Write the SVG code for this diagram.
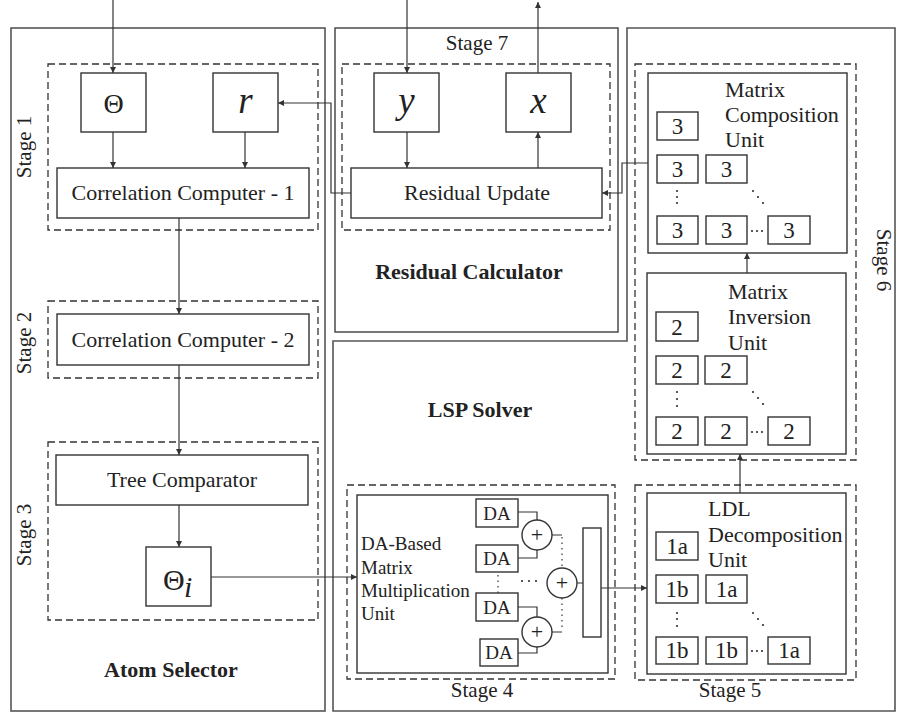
<svg xmlns="http://www.w3.org/2000/svg" width="901" height="715" viewBox="0 0 901 715">
<style>
.outer{fill:none;stroke:#555;stroke-width:1.6}
.dash{fill:none;stroke:#333;stroke-width:1.3;stroke-dasharray:7 4}
.box{fill:#fff;stroke:#333;stroke-width:1.4}
.conn{fill:none;stroke:#333;stroke-width:1.2}
.dot{stroke:#333;stroke-width:1.2;fill:none;stroke-dasharray:1.5 4}
.pt{fill:#333}
</style>
<defs>
<marker id="ah" viewBox="0 0 10 10" refX="10" refY="5" markerUnits="userSpaceOnUse" markerWidth="7" markerHeight="6" orient="auto">
<path d="M0,0 L10,5 L0,10 z" fill="#333"/>
</marker>
</defs>
<rect width="901" height="715" fill="#fff"/>

<g id="atom-selector">
<rect class="outer" x="11" y="28" width="314" height="683"/>
<text font-family="Liberation Serif" font-size="22" font-weight="bold" fill="#222" text-anchor="middle" x="171" y="677">Atom Selector</text>
</g>
<g id="residual-calculator">
<rect class="outer" x="335" y="28" width="283" height="304"/>
<text font-family="Liberation Serif" font-size="22" font-weight="bold" fill="#222" text-anchor="middle" x="469" y="279">Residual Calculator</text>
</g>
<g id="lsp-solver">
<path class="outer" d="M627,28 H895 V711 H333 V341 H627 Z"/>
<text font-family="Liberation Serif" font-size="22" font-weight="bold" fill="#222" text-anchor="middle" x="480" y="417">LSP Solver</text>
</g>

<g id="stage1">
<rect class="dash" x="48" y="64" width="270" height="166"/>
<text font-family="Liberation Serif" font-size="21" fill="#222" text-anchor="middle" transform="translate(31,147) rotate(-90)">Stage 1</text>
</g>
<g id="stage2">
<rect class="dash" x="48" y="301" width="270" height="77"/>
<text font-family="Liberation Serif" font-size="21" fill="#222" text-anchor="middle" transform="translate(31,343) rotate(-90)">Stage 2</text>
</g>
<g id="stage3">
<rect class="dash" x="48" y="442" width="270" height="178"/>
<text font-family="Liberation Serif" font-size="21" fill="#222" text-anchor="middle" transform="translate(31,535) rotate(-90)">Stage 3</text>
</g>
<g id="stage7">
<rect class="dash" x="342" y="64" width="268" height="166"/>
<text font-family="Liberation Serif" font-size="21" fill="#222" text-anchor="middle" x="477" y="50">Stage 7</text>
</g>
<g id="stage6">
<rect class="dash" x="635" y="64" width="221" height="396"/>
<text font-family="Liberation Serif" font-size="21" fill="#222" text-anchor="middle" transform="translate(877,260) rotate(90)">Stage 6</text>
</g>
<g id="stage4">
<rect class="dash" x="347" y="485" width="268" height="194"/>
<text font-family="Liberation Serif" font-size="21" fill="#222" text-anchor="middle" x="482" y="697">Stage 4</text>
</g>
<g id="stage5">
<rect class="dash" x="635" y="485" width="221" height="195"/>
<text font-family="Liberation Serif" font-size="21" fill="#222" text-anchor="middle" x="730" y="697">Stage 5</text>
</g>

<g id="theta">
<rect class="box" x="81" y="73" width="65" height="59"/>
<text font-family="Liberation Serif" font-size="28" fill="#222" text-anchor="middle" x="113.5" y="113">Θ</text>
</g>
<g id="r">
<rect class="box" x="213" y="73" width="65" height="59"/>
<text font-family="Liberation Serif" font-size="37" font-style="italic" fill="#222" text-anchor="middle" x="245.5" y="113">r</text>
</g>
<g id="cc1">
<rect class="box" x="57" y="168" width="252" height="50"/>
<text font-family="Liberation Serif" font-size="22" fill="#222" text-anchor="middle" x="183" y="200">Correlation Computer - 1</text>
</g>
<g id="cc2">
<rect class="box" x="57" y="314" width="252" height="51"/>
<text font-family="Liberation Serif" font-size="22" fill="#222" text-anchor="middle" x="183" y="347">Correlation Computer - 2</text>
</g>
<g id="tree">
<rect class="box" x="56" y="455" width="252" height="50"/>
<text font-family="Liberation Serif" font-size="22" fill="#222" text-anchor="middle" x="182" y="487">Tree Comparator</text>
</g>
<g id="theta-i">
<rect class="box" x="146" y="547" width="65" height="59"/>
<text font-family="Liberation Serif" font-size="30" fill="#222" x="163" y="590">Θ</text>
<text font-family="Liberation Serif" font-size="30" font-style="italic" fill="#222" x="184" y="597">i</text>
</g>
<g id="y">
<rect class="box" x="374" y="73" width="65" height="59"/>
<text font-family="Liberation Serif" font-size="37" font-style="italic" fill="#222" text-anchor="middle" x="406.5" y="113">y</text>
</g>
<g id="x">
<rect class="box" x="506" y="73" width="65" height="59"/>
<text font-family="Liberation Serif" font-size="37" font-style="italic" fill="#222" text-anchor="middle" x="538.5" y="113">x</text>
</g>
<g id="residual-update">
<rect class="box" x="351" y="168" width="251" height="50"/>
<text font-family="Liberation Serif" font-size="22" fill="#222" text-anchor="middle" x="477" y="200">Residual Update</text>
</g>

<g id="mcu">
<rect class="box" x="648" y="73" width="199" height="180"/>
<g font-family="Liberation Serif" font-size="22" fill="#222">
<text font-family="Liberation Serif" x="725" y="97">Matrix</text>
<text font-family="Liberation Serif" x="725" y="122">Composition</text>
<text font-family="Liberation Serif" x="725" y="147">Unit</text>
</g>
<rect class="box" x="657" y="112" width="41" height="28"/>
<rect class="box" x="657" y="155" width="41" height="28"/>
<rect class="box" x="706" y="155" width="41" height="28"/>
<rect class="box" x="657" y="216" width="41" height="28"/>
<rect class="box" x="706" y="216" width="41" height="28"/>
<rect class="box" x="768" y="216" width="42" height="28"/>
<g font-family="Liberation Serif" font-size="23" fill="#222" text-anchor="middle">
<text font-family="Liberation Serif" x="677.5" y="134">3</text>
<text font-family="Liberation Serif" x="677.5" y="177">3</text>
<text font-family="Liberation Serif" x="726.5" y="177">3</text>
<text font-family="Liberation Serif" x="677.5" y="238">3</text>
<text font-family="Liberation Serif" x="726.5" y="238">3</text>
<text font-family="Liberation Serif" x="789" y="238">3</text>
</g>
<g class="pt"><circle cx="677" cy="191" r="1.1"/><circle cx="677" cy="197" r="1.1"/><circle cx="677" cy="203" r="1.1"/>
<circle cx="753" cy="191" r="1.1"/><circle cx="758" cy="197" r="1.1"/><circle cx="763" cy="203" r="1.1"/>
<circle cx="752" cy="231" r="1.1"/><circle cx="757" cy="231" r="1.1"/><circle cx="762" cy="231" r="1.1"/></g>
</g>

<g id="miu">
<rect class="box" x="647" y="273" width="199" height="181"/>
<g font-family="Liberation Serif" font-size="22" fill="#222">
<text font-family="Liberation Serif" x="728" y="299">Matrix</text>
<text font-family="Liberation Serif" x="728" y="324">Inversion</text>
<text font-family="Liberation Serif" x="728" y="350">Unit</text>
</g>
<rect class="box" x="656" y="312" width="42" height="29"/>
<rect class="box" x="656" y="356" width="42" height="28"/>
<rect class="box" x="705" y="356" width="42" height="28"/>
<rect class="box" x="656" y="417" width="42" height="28"/>
<rect class="box" x="705" y="417" width="42" height="28"/>
<rect class="box" x="768" y="417" width="42" height="28"/>
<g font-family="Liberation Serif" font-size="23" fill="#222" text-anchor="middle">
<text font-family="Liberation Serif" x="677" y="335">2</text>
<text font-family="Liberation Serif" x="677" y="378">2</text>
<text font-family="Liberation Serif" x="726" y="378">2</text>
<text font-family="Liberation Serif" x="677" y="439">2</text>
<text font-family="Liberation Serif" x="726" y="439">2</text>
<text font-family="Liberation Serif" x="789" y="439">2</text>
</g>
<g class="pt"><circle cx="677" cy="392" r="1.1"/><circle cx="677" cy="399" r="1.1"/><circle cx="677" cy="406" r="1.1"/>
<circle cx="753" cy="392" r="1.1"/><circle cx="758" cy="398" r="1.1"/><circle cx="763" cy="404" r="1.1"/>
<circle cx="752" cy="432" r="1.1"/><circle cx="757" cy="432" r="1.1"/><circle cx="762" cy="432" r="1.1"/></g>
</g>

<g id="ldl">
<rect class="box" x="647" y="493" width="199" height="181"/>
<g font-family="Liberation Serif" font-size="22" fill="#222">
<text font-family="Liberation Serif" x="708" y="516">LDL</text>
<text font-family="Liberation Serif" x="708" y="542">Decomposition</text>
<text font-family="Liberation Serif" x="708" y="567">Unit</text>
</g>
<rect class="box" x="656" y="532" width="42" height="28"/>
<rect class="box" x="656" y="575" width="42" height="28"/>
<rect class="box" x="706" y="575" width="41" height="28"/>
<rect class="box" x="656" y="637" width="42" height="27"/>
<rect class="box" x="706" y="637" width="41" height="27"/>
<rect class="box" x="768" y="637" width="42" height="27"/>
<g font-family="Liberation Serif" font-size="23" fill="#222" text-anchor="middle">
<text font-family="Liberation Serif" x="677" y="554">1a</text>
<text font-family="Liberation Serif" x="677" y="597">1b</text>
<text font-family="Liberation Serif" x="726.5" y="597">1a</text>
<text font-family="Liberation Serif" x="677" y="658">1b</text>
<text font-family="Liberation Serif" x="726.5" y="658">1b</text>
<text font-family="Liberation Serif" x="789" y="658">1a</text>
</g>
<g class="pt"><circle cx="677" cy="613" r="1.1"/><circle cx="677" cy="619" r="1.1"/><circle cx="677" cy="626" r="1.1"/>
<circle cx="753" cy="613" r="1.1"/><circle cx="758" cy="619" r="1.1"/><circle cx="763" cy="625" r="1.1"/>
<circle cx="752" cy="651" r="1.1"/><circle cx="757" cy="651" r="1.1"/><circle cx="762" cy="651" r="1.1"/></g>
</g>

<g id="da-unit">
<rect class="box" x="357" y="495" width="251" height="178"/>
<g font-family="Liberation Serif" font-size="19" fill="#222">
<text font-family="Liberation Serif" x="361" y="550">DA-Based</text>
<text font-family="Liberation Serif" x="361" y="574">Matrix</text>
<text font-family="Liberation Serif" x="361" y="597">Multiplication</text>
<text font-family="Liberation Serif" x="361" y="620">Unit</text>
</g>
<rect class="box" x="476" y="499" width="42" height="28"/>
<rect class="box" x="476" y="545" width="42" height="27"/>
<rect class="box" x="476" y="593" width="42" height="28"/>
<rect class="box" x="480" y="639" width="38" height="27"/>
<g font-family="Liberation Serif" font-size="19" fill="#222" text-anchor="middle">
<text font-family="Liberation Serif" x="497" y="520">DA</text>
<text font-family="Liberation Serif" x="497" y="565">DA</text>
<text font-family="Liberation Serif" x="497" y="614">DA</text>
<text font-family="Liberation Serif" x="499" y="659">DA</text>
</g>
<path class="conn" d="M518,512 H537 V520 M518,558 H537 V550 M518,607 H537 V617 M518,653 H537 V647 M552,535 H562 M552,632 H562 M577,583 H583"/>
<path class="dot" d="M562,537 V568 M562,598 V630 M498,575 V593"/>
<circle class="box" cx="537" cy="535" r="15"/>
<circle class="box" cx="562" cy="583" r="15"/>
<circle class="box" cx="537" cy="632" r="15"/>
<g font-family="Liberation Serif" font-size="22" fill="#222" text-anchor="middle">
<text font-family="Liberation Serif" x="537" y="542">+</text>
<text font-family="Liberation Serif" x="562" y="590">+</text>
<text font-family="Liberation Serif" x="537" y="639">+</text>
</g>
<g class="pt"><circle cx="522" cy="581" r="1.1"/><circle cx="529" cy="581" r="1.1"/><circle cx="536" cy="581" r="1.1"/></g>
<rect class="box" x="583" y="528" width="18" height="109"/>
</g>

<g id="connectors" class="conn" marker-end="url(#ah)">
<path d="M113,0 V73"/>
<path d="M113,132 V168"/>
<path d="M245,132 V168"/>
<path d="M179,218 V314"/>
<path d="M179,365 V455"/>
<path d="M179,505 V547"/>
<path d="M211,577 H357"/>
<path d="M351,193 H331 V103 H278"/>
<path d="M407,0 V73"/>
<path d="M407,132 V168"/>
<path d="M538,168 V132"/>
<path d="M538,73 V2"/>
<path d="M648,163 H622 V193 H602"/>
<path d="M747,273 V253"/>
<path d="M740,493 V454"/>
<path d="M601,588 H647"/>
</g>
</svg>
